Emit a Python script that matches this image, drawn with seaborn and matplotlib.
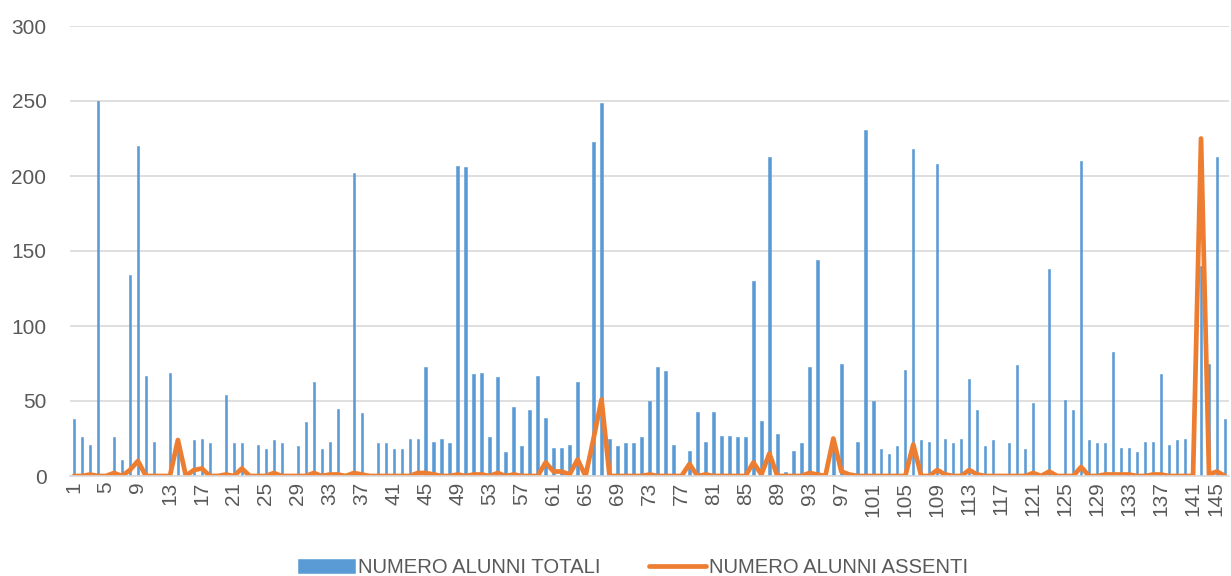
import numpy as np
import pandas as pd
import matplotlib
matplotlib.use("Agg")
import matplotlib.pyplot as plt
import seaborn as sns

# ---- dati ----
numero = list(range(1, 146))

alunni_totali = [
    38, 26, 21, 250, 0, 26, 11, 134, 220, 67,
    23, 0, 69, 24, 0, 24, 25, 22, 0, 54,
    22, 22, 0, 21, 18, 24, 22, 0, 20, 36,
    63, 18, 23, 45, 0, 202, 42, 0, 22, 22,
    18, 18, 25, 25, 73, 23, 25, 22, 207, 206,
    68, 69, 26, 66, 16, 46, 20, 44, 67, 39,
    19, 19, 21, 63, 0, 223, 249, 25, 20, 22,
    22, 26, 50, 73, 70, 21, 0, 17, 43, 23,
    43, 27, 27, 26, 26, 130, 37, 213, 28, 3,
    17, 22, 73, 144, 0, 25, 75, 0, 23, 231,
    50, 18, 15, 20, 71, 218, 24, 23, 208, 25,
    22, 25, 65, 44, 20, 24, 0, 22, 74, 18,
    49, 0, 138, 0, 51, 44, 210, 24, 22, 22,
    83, 19, 19, 16, 23, 23, 68, 21, 24, 25,
    0, 140, 75, 213, 38,
]

alunni_assenti = [
    0, 0, 1, 0, 0, 2, 0, 4, 10, 0,
    0, 0, 0, 24, 0, 4, 5, 0, 0, 1,
    0, 5, 0, 0, 0, 2, 0, 0, 0, 0,
    2, 0, 1, 1, 0, 2, 1, 0, 0, 0,
    0, 0, 0, 2, 2, 1, 0, 0, 1, 0,
    1, 1, 0, 2, 0, 1, 0, 0, 0, 9,
    3, 3, 1, 11, 0, 25, 51, 0, 0, 0,
    0, 0, 1, 0, 0, 0, 0, 8, 0, 1,
    0, 0, 0, 0, 0, 9, 1, 15, 0, 0,
    0, 0, 2, 1, 0, 25, 3, 1, 0, 0,
    0, 0, 0, 0, 0, 21, 0, 0, 4, 1,
    0, 0, 4, 1, 0, 0, 0, 0, 0, 0,
    2, 0, 3, 0, 0, 0, 6, 0, 0, 1,
    1, 1, 1, 0, 0, 1, 1, 0, 0, 0,
    0, 225, 1, 3, 0,
]

df = pd.DataFrame({
    "numero": [str(n) for n in numero],
    "totali": alunni_totali,
    "assenti": alunni_assenti,
})
df["pos"] = df.index

BLU = "#5B9BD5"
ARANCIO = "#ED7D31"
GRIGIO = "#595959"
GRIGLIA = "#D9D9D9"

sns.set_style("white")
plt.rcParams["font.family"] = ["Liberation Sans", "DejaVu Sans"]

fig = plt.figure(figsize=(12.31, 5.76), dpi=100)
ax = fig.add_axes([70 / 1231, 1 - 476 / 576, 1159 / 1231, 450 / 576])

sns.barplot(data=df, x="numero", y="totali", color=BLU, width=0.3,
            saturation=1, label="NUMERO ALUNNI TOTALI", ax=ax,
            edgecolor=BLU, linewidth=0.4)
sns.lineplot(data=df, x="pos", y="assenti", color=ARANCIO, linewidth=3.4,
             label="NUMERO ALUNNI ASSENTI", ax=ax,
             solid_joinstyle="round", solid_capstyle="round")

ax.set_xlim(-0.5, 144.5)
ax.set_ylim(0, 300)
ax.set_yticks(range(0, 301, 50))
ax.set_xticks(df["pos"][::4])
ax.set_xticklabels(df["numero"][::4], rotation=90)
ax.yaxis.grid(True, color=GRIGLIA, linewidth=1.2)
ax.set_axisbelow(True)
ax.tick_params(axis="y", length=0, pad=17, labelsize=15, labelcolor=GRIGIO)
ax.tick_params(axis="x", length=0, pad=4, labelsize=15, labelcolor=GRIGIO)
ax.set_xlabel("")
ax.set_ylabel("")
for s in ["top", "right", "left"]:
    ax.spines[s].set_visible(False)
ax.spines["bottom"].set_color(GRIGLIA)
ax.spines["bottom"].set_linewidth(1.2)

# l'ultima etichetta sta sul bordo destro: la sposto un poco a sinistra
ultima = ax.get_xticklabels()[-1]
ultima.set_horizontalalignment("right")

handles, labels = ax.get_legend_handles_labels()
ax.get_legend().remove()
ordine = [labels.index("NUMERO ALUNNI TOTALI"), labels.index("NUMERO ALUNNI ASSENTI")]
fig.legend([handles[i] for i in ordine], [labels[i] for i in ordine],
           loc="center", bbox_to_anchor=(0.514, 0.015),
           ncol=2, frameon=False, fontsize=14.6, labelcolor=GRIGIO,
           handlelength=2.8, handleheight=0.7, handletextpad=0.15,
           columnspacing=2.4)

fig.savefig("out.png", dpi=100)
